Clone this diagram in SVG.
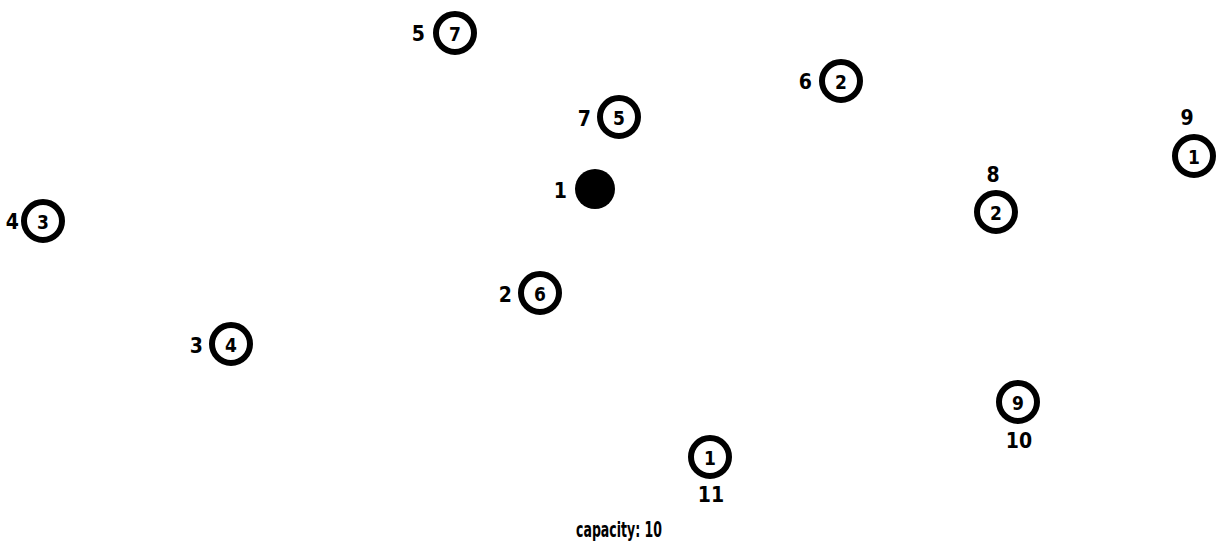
<svg xmlns="http://www.w3.org/2000/svg" width="1216" height="551" viewBox="0 0 1216 551">
<style>
text{font-family:"DejaVu Sans Condensed","DejaVu Sans",sans-serif;font-weight:bold;font-size:21px;fill:#000}
.c{fill:#fff;stroke:#000;stroke-width:6}
.in{text-anchor:middle;dominant-baseline:central;font-size:19px}
.lb{text-anchor:end;dominant-baseline:central}
.lc{text-anchor:middle}
</style>
<rect width="1216" height="551" fill="#fff"/>
<g id="connectors"></g>
<g id="n1"><circle cx="595" cy="189" r="20" fill="#000"/><text class="lb" x="567" y="191">1</text></g>
<g id="n2"><circle class="c" cx="540" cy="293" r="19"/><text class="in" x="540" y="294">6</text><text class="lb" x="512" y="295">2</text></g>
<g id="n3"><circle class="c" cx="231" cy="344" r="19"/><text class="in" x="231" y="345">4</text><text class="lb" x="203" y="346">3</text></g>
<g id="n4"><circle class="c" cx="43" cy="221" r="19"/><text class="in" x="43" y="222">3</text><text class="lb" x="19" y="222">4</text></g>
<g id="n5"><circle class="c" cx="455" cy="33" r="19"/><text class="in" x="455" y="34">7</text><text class="lb" x="425" y="34">5</text></g>
<g id="n6"><circle class="c" cx="841" cy="81" r="19"/><text class="in" x="841" y="82">2</text><text class="lb" x="812" y="82">6</text></g>
<g id="n7"><circle class="c" cx="619" cy="117" r="19"/><text class="in" x="619" y="118">5</text><text class="lb" x="591" y="119">7</text></g>
<g id="n8"><circle class="c" cx="996" cy="212" r="19"/><text class="in" x="996" y="213">2</text><text class="lc" x="993" y="182">8</text></g>
<g id="n9"><circle class="c" cx="1194" cy="156" r="19"/><text class="in" x="1194" y="157">1</text><text class="lc" x="1187" y="125">9</text></g>
<g id="n10"><circle class="c" cx="1018" cy="402" r="19"/><text class="in" x="1018" y="403">9</text><text class="lc" x="1019" y="448">10</text></g>
<g id="n11"><circle class="c" cx="710" cy="457" r="19"/><text class="in" x="710" y="458">1</text><text class="lc" x="711" y="502">11</text></g>
<text class="lc" x="619" y="537" font-size="22" style="font-size:22px" textLength="86" lengthAdjust="spacingAndGlyphs">capacity: 10</text>
</svg>
